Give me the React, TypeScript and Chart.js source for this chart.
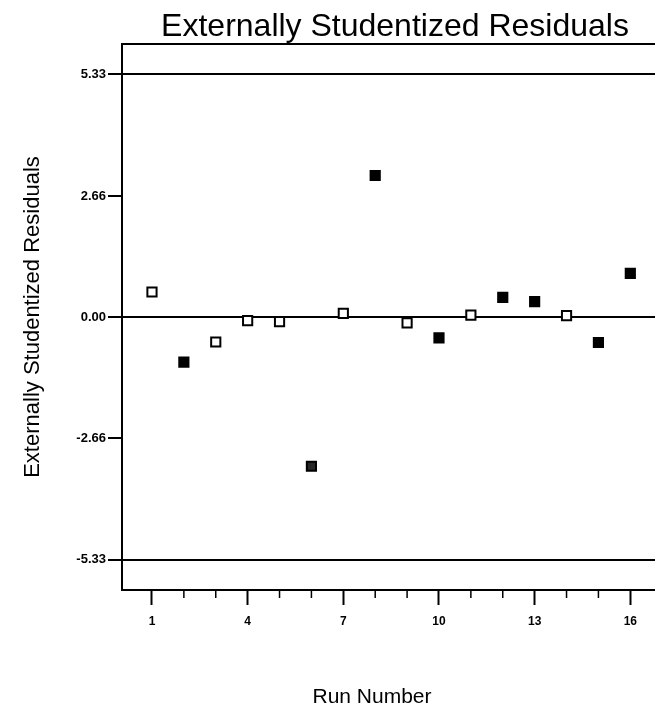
import React, { useEffect, useRef } from 'react';
import { Chart, registerables } from 'chart.js';

Chart.register(...registerables);

const runNumbers = [1, 2, 3, 4, 5, 6, 7, 8, 9, 10, 11, 12, 13, 14, 15, 16];
const residuals = [0.55, -0.99, -0.55, -0.08, -0.1, -3.28, 0.08, 3.11, -0.13, -0.46, 0.04, 0.43, 0.34, 0.03, -0.56, 0.96];
const markerKind = ['open', 'filled', 'open', 'open', 'open', 'dark', 'open', 'filled', 'open', 'filled', 'open', 'filled', 'filled', 'open', 'filled', 'filled'];
const yTickValues = [-5.33, -2.66, 0, 2.66, 5.33];
const limitValues = [-5.33, 0, 5.33];
const xLabelValues = [1, 4, 7, 10, 13, 16, 19];
const chartTitle = 'Externally Studentized Residuals';
const xTitle = 'Run Number';
const yTitle = 'Externally Studentized Residuals';

const FONT = "'Liberation Sans', Arial, Helvetica, sans-serif";
const fillFor = (k: string) => (k === 'filled' ? '#000' : k === 'dark' ? '#262626' : '#fff');

export default function App() {
  const ref = useRef<HTMLCanvasElement>(null);

  useEffect(() => {
    if (!ref.current) return;
    const extras = {
      id: 'extras',
      afterDraw(chart: any) {
        const { ctx, chartArea, scales } = chart;
        const x = scales.x;
        ctx.save();
        ctx.strokeStyle = '#000';
        ctx.lineWidth = 2;
        ctx.beginPath();
        ctx.moveTo(chartArea.left, chartArea.top);
        ctx.lineTo(chartArea.right, chartArea.top);
        ctx.stroke();
        ctx.lineWidth = 1.5;
        ctx.beginPath();
        for (let v = runNumbers[0]; v <= x.max; v++) {
          if (xLabelValues.includes(v)) continue;
          const px = x.getPixelForValue(v);
          ctx.moveTo(px, chartArea.bottom);
          ctx.lineTo(px, chartArea.bottom + 8);
        }
        ctx.stroke();
        ctx.font = `21px ${FONT}`;
        ctx.fillStyle = '#000';
        ctx.textAlign = 'center';
        ctx.textBaseline = 'alphabetic';
        ctx.fillText(xTitle, x.getPixelForValue(7.9), chart.height - 4);
        ctx.restore();
      },
    };

    const chart = new Chart(ref.current, {
      type: 'scatter',
      data: {
        datasets: [
          {
            data: runNumbers.map((r, i) => ({ x: r, y: residuals[i] })),
            pointStyle: 'rect',
            pointRadius: 6.5,
            pointHoverRadius: 6.5,
            pointBackgroundColor: markerKind.map(fillFor),
            pointBorderColor: '#000',
            pointBorderWidth: 2,
            showLine: false,
          },
        ],
      },
      options: {
        responsive: false,
        animation: false,
        layout: { padding: 0 },
        plugins: {
          legend: { display: false },
          tooltip: { enabled: false },
          title: {
            display: true,
            text: chartTitle,
            color: '#000',
            font: { family: FONT, size: 32, weight: 'normal', lineHeight: 1 },
            padding: { top: 3, bottom: 1 },
          },
        },
        scales: {
          x: {
            type: 'linear',
            min: 0.06,
            max: 20.49,
            afterFit(s: any) {
              s.height = 117;
            },
            afterBuildTicks(s: any) {
              s.ticks = xLabelValues.map((v) => ({ value: v }));
            },
            grid: {
              display: true,
              drawOnChartArea: false,
              drawTicks: true,
              tickLength: 15,
              tickColor: '#000',
              tickWidth: 2,
            },
            border: { display: true, color: '#000', width: 2 },
            ticks: {
              color: '#000',
              font: { family: FONT, size: 12, weight: 'bold' },
              padding: 9,
              maxRotation: 0,
              autoSkip: false,
              callback: (v: any) => String(v),
            },
          },
          y: {
            type: 'linear',
            min: -6,
            max: 6,
            afterFit(s: any) {
              s.width = 114;
            },
            afterBuildTicks(s: any) {
              s.ticks = yTickValues.map((v) => ({ value: v }));
            },
            grid: {
              color: (c: any) => (c.tick && limitValues.includes(c.tick.value) ? '#000' : 'rgba(0,0,0,0)'),
              lineWidth: 2,
              tickColor: '#000',
              tickWidth: 2,
              tickLength: 14,
            },
            border: { display: true, color: '#000', width: 2 },
            ticks: {
              color: '#000',
              font: { family: FONT, size: 13, weight: 'bold' },
              padding: 2,
              autoSkip: false,
              callback: (v: any) => Number(v).toFixed(2),
            },
            title: {
              display: true,
              text: yTitle,
              color: '#000',
              font: { family: FONT, size: 22, weight: 'normal' },
              padding: { top: 12, bottom: 0 },
            },
          },
        },
      },
      plugins: [extras],
    } as any);

    return () => chart.destroy();
  }, []);

  return (
    <div
      style={{
        position: 'absolute',
        left: 8,
        top: 8,
        width: 647,
        height: 699,
        overflow: 'hidden',
        background: '#fff',
      }}
    >
      <canvas ref={ref} width={774} height={699} style={{ width: 774, height: 699, display: 'block' }} />
    </div>
  );
}
